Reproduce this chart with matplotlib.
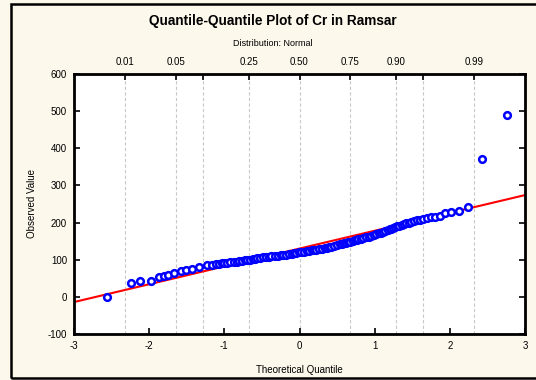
import matplotlib
matplotlib.use("Agg")
import matplotlib.pyplot as plt
from matplotlib.patches import Rectangle
from statistics import NormalDist
import numpy as np

plt.rcParams['font.family'] = ['Liberation Sans', 'DejaVu Sans']
plt.rcParams['axes.unicode_minus'] = False

# Observed Cr values (distinct values and how many times each occurs)
cr_values = [0, 37, 42, 43, 53, 56, 60, 63, 69, 71, 74, 80, 85,
             87, 88, 89, 90, 91,
             92, 93, 94, 95, 96,
             97, 98, 99, 100, 102, 103,
             104, 105, 106, 107, 108,
             109, 110, 111, 112, 113,
             114, 115, 116, 117, 118, 120,
             121, 122, 123, 124, 125, 126,
             127, 128, 130, 131, 132, 134,
             135, 137, 139, 141, 142, 144,
             146, 147, 149, 150, 152, 153, 155,
             157, 158, 160, 162, 164, 167,
             169, 171, 173, 175, 177, 180, 182,
             184, 186, 188, 190, 192, 194, 196,
             198, 200, 202, 204, 206, 208,
             210, 212, 214, 216, 219,
             225, 229, 231, 241, 370, 490]
cr_counts = [2, 1, 1, 2, 1, 1, 1, 2, 2, 2, 2, 4, 4,
             2, 2, 2, 2, 1,
             3, 2, 3, 2, 2,
             2, 3, 2, 3, 2, 1,
             3, 3, 3, 3, 3,
             3, 4, 3, 3, 3,
             3, 3, 3, 3, 2, 3,
             3, 3, 3, 3, 3, 2,
             3, 3, 3, 3, 2, 2,
             3, 3, 3, 2, 2, 2,
             2, 2, 2, 2, 2, 1, 2,
             2, 2, 2, 2, 2, 2,
             1, 2, 1, 1, 2, 1, 1,
             1, 1, 1, 1, 1, 1, 1,
             1, 1, 1, 1, 1, 1,
             1, 1, 1, 1, 1,
             1, 1, 1, 1, 1, 1]

# reference line (intercept, slope)
line_coef = [130, 48]

prob_ticks = [0.01, 0.05, 0.10, 0.25, 0.50, 0.75, 0.90, 0.95, 0.99]
prob_labels = ['0.01', '0.05', '', '0.25', '0.50', '0.75', '0.90', '', '0.99']

# Blom plotting positions, tied values get their mean rank
n = sum(cr_counts)
nd = NormalDist()
theo = []
start = 1
for c in cr_counts:
    r = start + (c - 1) / 2.0
    theo.append(nd.inv_cdf((r - 0.375) / (n + 0.25)))
    start += c

bg = '#fdf8ec'
fig = plt.figure(figsize=(5.36, 3.80), dpi=100, facecolor=bg)
fig.patches.append(Rectangle((11 / 536, 2 / 380), 540 / 536, 374 / 380,
                             transform=fig.transFigure, fill=False,
                             edgecolor='black', linewidth=1.8))

ax = fig.add_axes([74 / 536, 46 / 380, 451 / 536, 260 / 380])
ax.set_facecolor('white')

xs = np.array([-3, 3])
ax.plot(xs, line_coef[0] + line_coef[1] * xs, color='red', linewidth=1.5, zorder=2)
ax.plot(theo, cr_values, 'o', markersize=4.8, markerfacecolor='white',
        markeredgecolor='blue', markeredgewidth=1.8, zorder=3, clip_on=False)

ax.set_xlim(-3, 3)
ax.set_ylim(-100, 600)
ax.set_xticks(range(-3, 4))
ax.set_yticks(range(-100, 601, 100))
ax.tick_params(direction='in', length=4, width=1.2, labelsize=7, top=False,
               right=True, pad=5)
for s in ax.spines.values():
    s.set_linewidth(2)

ax.set_xlabel('Theoretical Quantile', fontsize=7, labelpad=10)
ax.set_ylabel('Observed Value', fontsize=7, labelpad=8)

top = ax.twiny()
top.set_xlim(-3, 3)
zt = [nd.inv_cdf(p) for p in prob_ticks]
top.set_xticks(zt)
top.set_xticklabels(prob_labels)
top.tick_params(direction='in', length=4, width=1.2, labelsize=7, pad=5)
for z in zt:
    ax.axvline(z, color='#c8c8c8', linestyle=(0, (3, 2)), linewidth=0.8, zorder=1)

fig.text(273 / 536, 1 - 21 / 380, 'Quantile-Quantile Plot of Cr in Ramsar',
         ha='center', va='center', fontsize=9.8, fontweight='bold')
fig.text(273 / 536, 1 - 43 / 380, 'Distribution: Normal',
         ha='center', va='center', fontsize=6.5)

plt.savefig('out.png', dpi=100, facecolor=bg)
